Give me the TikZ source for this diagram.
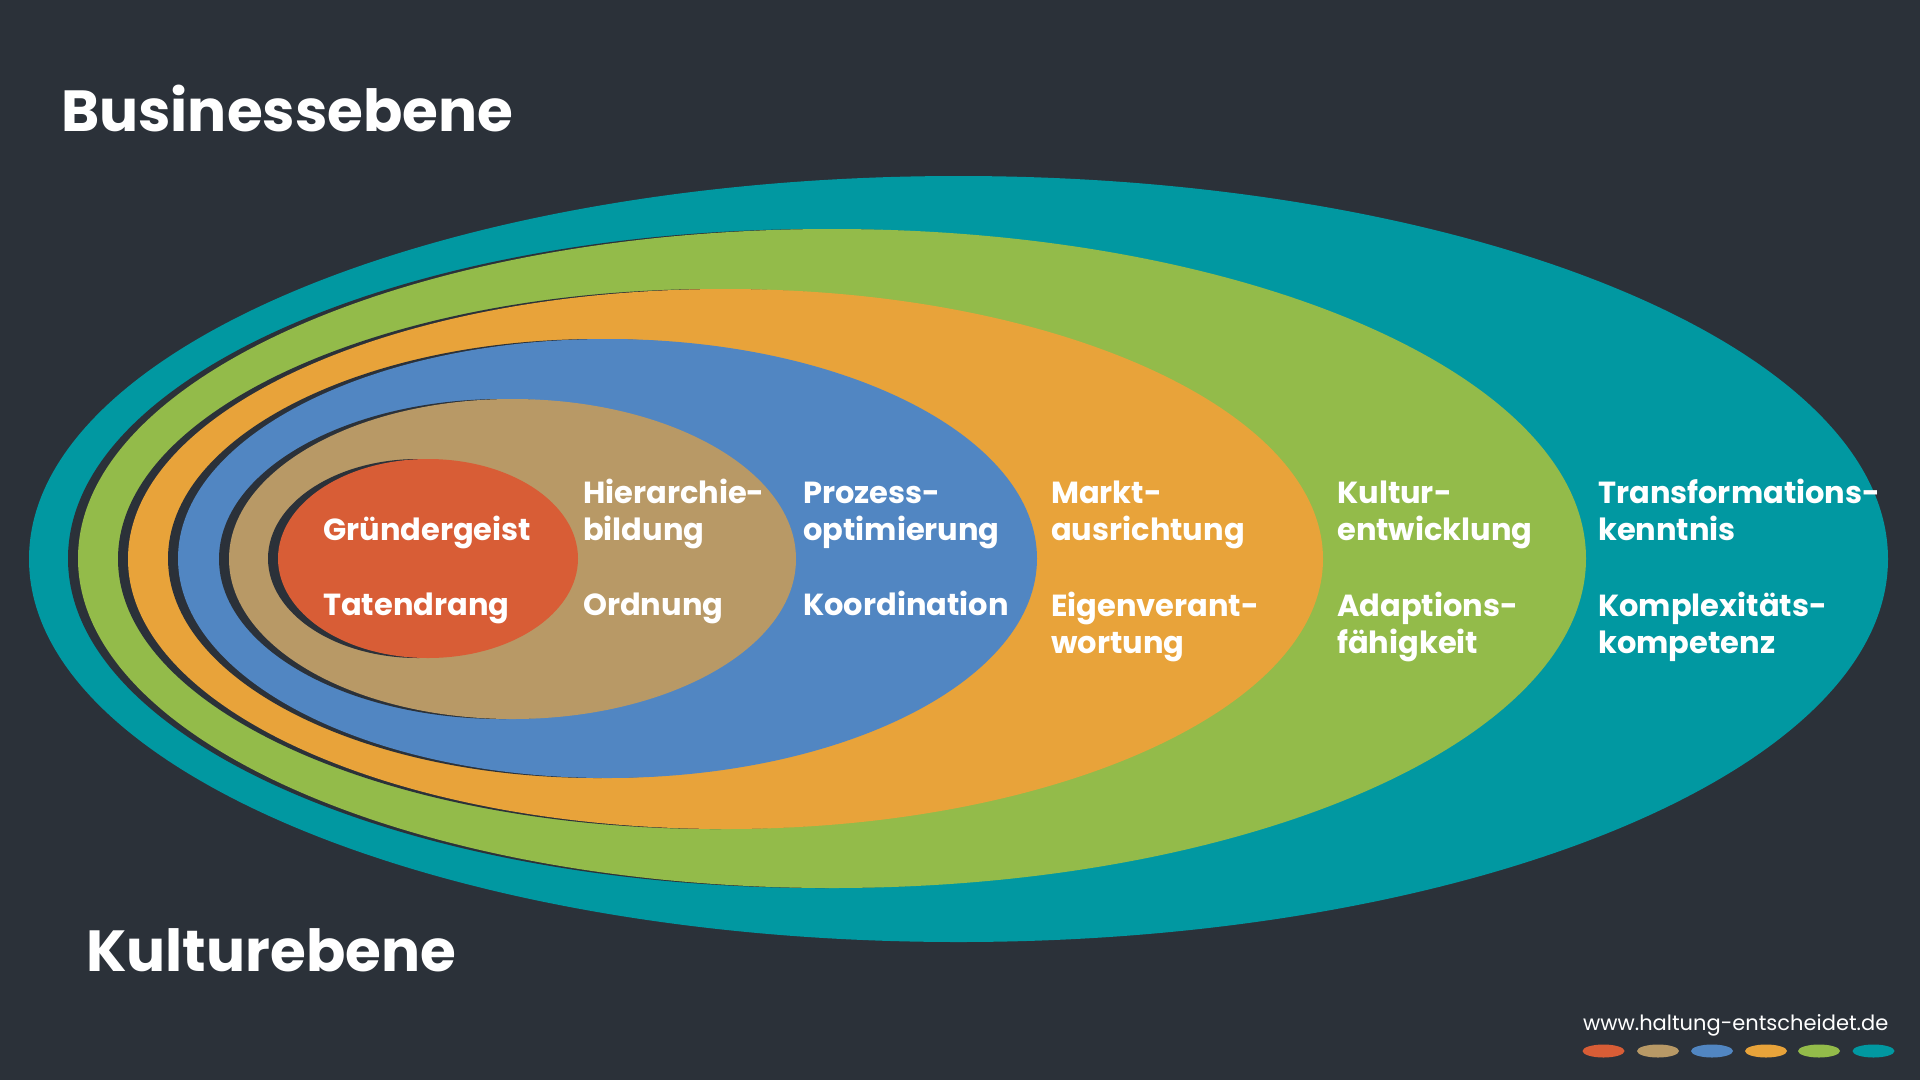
\documentclass[tikz,border=0pt]{standalone}
\usepackage{fontspec}
\setmainfont{Poppins}
\usetikzlibrary{shapes.geometric}
\definecolor{bg}{HTML}{2B3139}
\definecolor{cteal}{HTML}{0198A1}
\definecolor{cgreen}{HTML}{93BB4A}
\definecolor{corange}{HTML}{E8A33A}
\definecolor{cblue}{HTML}{5186C2}
\definecolor{ctan}{HTML}{B89966}
\definecolor{cred}{HTML}{D85D36}

\begin{document}
\begin{tikzpicture}[x=1pt,y=-1pt,
	ring/.style={ellipse, inner sep=0pt, outer sep=0pt, draw=none},
	shade/.style={ring, fill=bg},
	lbl/.style={anchor=base west, align=left, text=white, inner sep=0pt, font=\fontsize{30.5}{37}\selectfont\bfseries},
	head/.style={anchor=base west, text=white, inner sep=0pt, font=\fontsize{58}{58}\selectfont\bfseries},
	dot/.style={ellipse, inner sep=0pt, minimum width=42pt, minimum height=13pt}]
	\fill[bg] (0,0) rectangle (1920,1080);
	\useasboundingbox (0,0) rectangle (1920,1080);

	\node[ring, fill=cteal, minimum width=1859pt, minimum height=766pt] (teal) at (958.5,559) {};
	\node[shade, minimum width=1508pt, minimum height=659pt] at (822,558.5) {};
	\node[ring, fill=cgreen, minimum width=1508pt, minimum height=659pt] (green) at (832,558.5) {};
	\node[shade, minimum width=1195pt, minimum height=540pt] at (715.5,559) {};
	\node[ring, fill=corange, minimum width=1195pt, minimum height=540pt] (orange) at (725.5,559) {};
	\node[shade, minimum width=859pt, minimum height=439pt] at (597.5,558.5) {};
	\node[ring, fill=cblue, minimum width=859pt, minimum height=439pt] (blue) at (607.5,558.5) {};
	\node[shade, minimum width=567pt, minimum height=320pt] at (502.5,559) {};
	\node[ring, fill=ctan, minimum width=567pt, minimum height=320pt] (tan) at (512.5,559) {};
	\node[shade, minimum width=300pt, minimum height=199pt] at (418,558.5) {};
	\node[ring, fill=cred, minimum width=300pt, minimum height=199pt] (red) at (428,558.5) {};

	\node[lbl] (gruender) at (323,540) {Gründergeist};
	\node[lbl] (taten) at (323,615) {Tatendrang};
	\node[lbl] (hier) at (583,540) {Hierarchie-\\bildung};
	\node[lbl] (ordnung) at (583,615) {Ordnung};
	\node[lbl] (prozess) at (803,540) {Prozess-\\optimierung};
	\node[lbl] (koord) at (803,615) {Koordination};
	\node[lbl] (markt) at (1051,540) {Markt-\\ausrichtung};
	\node[lbl] (eigen) at (1051,653) {Eigenverant-\\wortung};
	\node[lbl] (kultur) at (1337,540) {Kultur-\\entwicklung};
	\node[lbl] (adapt) at (1337,653) {Adaptions-\\fähigkeit};
	\node[lbl] (trans) at (1598,540) {Transformations-\\kenntnis};
	\node[lbl] (komplex) at (1598,653) {Komplexitäts-\\kompetenz};

	\node[head] (business) at (61,131) {Businessebene};
	\node[head] (kulturebene) at (86,971) {Kulturebene};

	\node[anchor=base west, text=white, inner sep=0pt, font=\fontsize{21}{21}\selectfont] (url) at (1583,1030) {www.haltung-entscheidet.de};
	\node[dot, fill=cred] (d1) at (1603.5,1051) {};
	\node[dot, fill=ctan] (d2) at (1658,1051) {};
	\node[dot, fill=cblue] (d3) at (1712,1051) {};
	\node[dot, fill=corange] (d4) at (1766,1051) {};
	\node[dot, fill=cgreen] (d5) at (1819,1051) {};
	\node[dot, fill=cteal] (d6) at (1873.5,1051) {};
\end{tikzpicture}
\end{document}
